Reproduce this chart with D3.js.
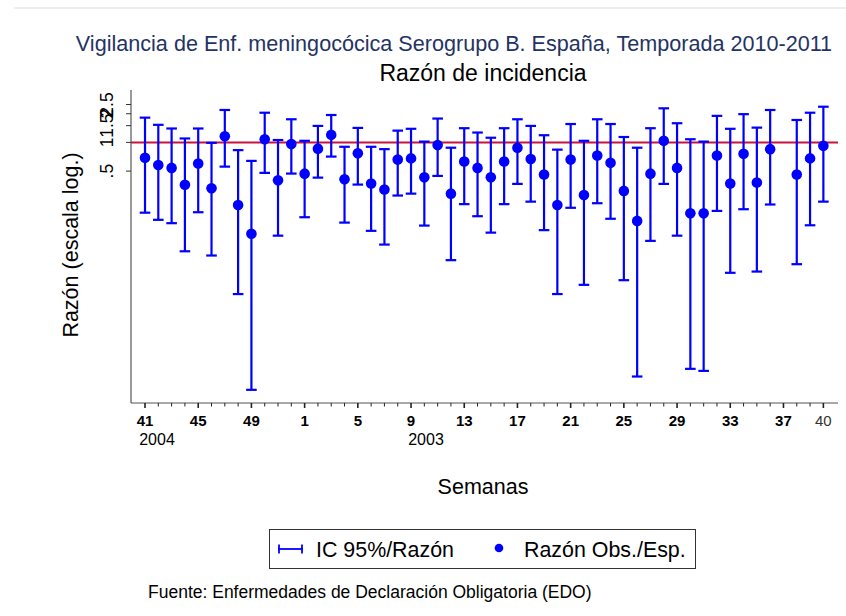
<!DOCTYPE html>
<html>
<head>
<meta charset="utf-8">
<script src="https://cdn.jsdelivr.net/npm/d3@7"></script>
<style>
  body { margin: 0; background: #fff; }
  text { font-family: 'Liberation Sans', Arial, sans-serif; }
</style>
</head>
<body>
<div id="chart"></div>
<script>
const weeks = [41, 42, 43, 44, 45, 46, 47, 48, 49, 50, 51, 52,
  1, 2, 3, 4, 5, 6, 7, 8, 9, 10, 11, 12, 13, 14, 15, 16, 17, 18, 19, 20,
  21, 22, 23, 24, 25, 26, 27, 28, 29, 30, 31, 32, 33, 34, 35, 36, 37, 38, 39, 40];

const ratio = [0.69, 0.58, 0.54, 0.36, 0.60, 0.33, 1.16, 0.22, 0.11, 1.08, 0.40, 0.96,
  0.47, 0.86, 1.20, 0.41, 0.77, 0.37, 0.32, 0.66, 0.68, 0.43, 0.94, 0.29, 0.63, 0.54,
  0.43, 0.63, 0.88, 0.67, 0.46, 0.22, 0.66, 0.28, 0.73, 0.61, 0.31, 0.15, 0.47, 1.04,
  0.54, 0.18, 0.18, 0.73, 0.37, 0.76, 0.38, 0.85, null, 0.46, 0.68, 0.92];

const upper = [1.82, 1.53, 1.40, 1.10, 1.40, 0.99, 2.19, 0.83, 0.64, 2.05, 1.06, 1.75,
  1.04, 1.49, 1.94, 0.90, 1.42, 0.90, 0.85, 1.33, 1.39, 1.02, 1.78, 0.88, 1.41, 1.27,
  1.12, 1.41, 1.75, 1.49, 1.19, 0.84, 1.56, 1.04, 1.75, 1.56, 1.14, 0.88, 1.41, 2.28,
  1.59, 1.08, 1.02, 1.90, 1.39, 1.98, 1.43, 2.19, null, 1.72, 2.05, 2.37];

const lower = [0.183, 0.154, 0.142, 0.072, 0.185, 0.065, 0.557, 0.0256, 0.00253, 0.479, 0.105, 0.471,
  0.164, 0.427, 0.710, 0.144, 0.361, 0.118, 0.0847, 0.277, 0.290, 0.134, 0.445, 0.0581, 0.225, 0.168,
  0.113, 0.225, 0.367, 0.239, 0.120, 0.0256, 0.206, 0.0320, 0.230, 0.158, 0.0358, 0.00349, 0.0926, 0.367,
  0.105, 0.00420, 0.00400, 0.191, 0.0428, 0.199, 0.0441, 0.223, null, 0.0527, 0.135, 0.239];

const yTicks = [0.5, 1, 1.5, 2, 2.5];
const xTickLabels = ['41', '45', '49', '1', '5', '9', '13', '17', '21', '25', '29', '33', '37', '40'];
const yearLabels = [{ week: 41, label: '2004' }, { week: 9, label: '2003' }];

const W = 846, H = 616;
const svg = d3.select('#chart').append('svg').attr('width', W).attr('height', H);

// plot region
const plot = { left: 131, right: 838, top: 90, bottom: 403 };

const data = weeks.map((w, i) => ({ week: w, i, r: ratio[i], lo: lower[i], hi: upper[i] }));

const x = d3.scaleLinear().domain([-1.053, 52.1]).range([plot.left, plot.right]);
const y = d3.scaleLog().domain([0.00184, 3.55]).range([plot.bottom, plot.top]);

// faint top rule
svg.append('line')
  .attr('x1', 14).attr('x2', W).attr('y1', 8).attr('y2', 8)
  .style('stroke', '#e6eaee').style('stroke-width', 1.5);

// titles
svg.append('text')
  .attr('x', 454).attr('y', 51)
  .attr('text-anchor', 'middle')
  .style('font-size', '21.6px')
  .style('fill', '#1f3464')
  .text('Vigilancia de Enf. meningocócica Serogrupo B. España, Temporada 2010-2011');

svg.append('text')
  .attr('x', 483).attr('y', 81)
  .attr('text-anchor', 'middle')
  .style('font-size', '23px')
  .style('fill', '#000')
  .text('Razón de incidencia');

// reference line at 1
svg.append('line')
  .attr('x1', plot.left).attr('x2', plot.right)
  .attr('y1', y(1)).attr('y2', y(1))
  .style('stroke', '#c8143c').style('stroke-width', 2);

// y axis
const yAxis = svg.append('g');
yAxis.append('line')
  .attr('x1', plot.left).attr('x2', plot.left).attr('y1', plot.top).attr('y2', plot.bottom)
  .style('stroke', '#555').style('stroke-width', 1.2);
yAxis.selectAll('.ytick')
  .data(yTicks)
  .enter()
  .append('line')
  .attr('x1', plot.left - 5).attr('x2', plot.left)
  .attr('y1', (d) => y(d)).attr('y2', (d) => y(d))
  .style('stroke', '#333').style('stroke-width', 1);
yAxis.selectAll('.ylab')
  .data(yTicks)
  .enter()
  .append('text')
  .attr('transform', (d) => `translate(113,${y(d)}) rotate(-90)`)
  .attr('text-anchor', 'middle')
  .style('font-size', '17.5px')
  .text((d) => String(d).replace(/^0/, ''));

svg.append('text')
  .attr('transform', 'translate(78,245) rotate(-90)')
  .attr('text-anchor', 'middle')
  .style('font-size', '21.5px')
  .text('Razón (escala log.)');

// x axis
const isMajor = (d) => xTickLabels.includes(String(d.week));
const xAxis = svg.append('g');
xAxis.append('line')
  .attr('x1', plot.left).attr('x2', plot.right).attr('y1', plot.bottom).attr('y2', plot.bottom)
  .style('stroke', '#555').style('stroke-width', 1.2);
xAxis.selectAll('.xtick')
  .data(data)
  .enter()
  .append('line')
  .attr('x1', (d) => x(d.i)).attr('x2', (d) => x(d.i))
  .attr('y1', plot.bottom)
  .attr('y2', (d) => plot.bottom + (isMajor(d) ? 5 : 3.5))
  .style('stroke', '#222')
  .style('stroke-width', (d) => (isMajor(d) ? 1.6 : 1));
xAxis.selectAll('.xlab')
  .data(data.filter(isMajor))
  .enter()
  .append('text')
  .attr('x', (d) => x(d.i))
  .attr('y', 426)
  .attr('text-anchor', 'middle')
  .style('font-size', '15px')
  .style('font-weight', (d) => (d.week === 40 ? 'normal' : 'bold'))
  .style('fill', (d) => (d.week === 40 ? '#333' : '#000'))
  .text((d) => d.week);

// year labels under the axis
xAxis.selectAll('.year')
  .data(yearLabels)
  .enter()
  .append('text')
  .attr('x', (d) => x(weeks.indexOf(d.week)) + (d.week === 41 ? 12 : 15))
  .attr('y', 445)
  .attr('text-anchor', 'middle')
  .style('font-size', '16px')
  .text((d) => d.label);

svg.append('text')
  .attr('x', 483).attr('y', 494)
  .attr('text-anchor', 'middle')
  .style('font-size', '21.5px')
  .text('Semanas');

// confidence intervals
const valid = data.filter((d) => d.r != null);
const cap = 5.3;
const bars = svg.append('g').style('stroke', '#0000ff').style('stroke-width', 2.2);
bars.selectAll('.ci')
  .data(valid)
  .enter()
  .append('line')
  .attr('x1', (d) => x(d.i)).attr('x2', (d) => x(d.i))
  .attr('y1', (d) => y(d.lo)).attr('y2', (d) => y(d.hi));
bars.selectAll('.capHi')
  .data(valid)
  .enter()
  .append('line')
  .attr('x1', (d) => x(d.i) - cap).attr('x2', (d) => x(d.i) + cap)
  .attr('y1', (d) => y(d.hi)).attr('y2', (d) => y(d.hi));
bars.selectAll('.capLo')
  .data(valid)
  .enter()
  .append('line')
  .attr('x1', (d) => x(d.i) - cap).attr('x2', (d) => x(d.i) + cap)
  .attr('y1', (d) => y(d.lo)).attr('y2', (d) => y(d.lo));

// observed / expected ratio
svg.selectAll('.dot')
  .data(valid)
  .enter()
  .append('circle')
  .attr('cx', (d) => x(d.i))
  .attr('cy', (d) => y(d.r))
  .attr('r', 5.3)
  .style('fill', '#0000ff');

// legend
const legend = svg.append('g');
legend.append('rect')
  .attr('x', 269.5).attr('y', 529.5).attr('width', 426).attr('height', 39)
  .style('fill', '#fff').style('stroke', '#333').style('stroke-width', 1);
legend.append('line')
  .attr('x1', 278).attr('x2', 303).attr('y1', 549).attr('y2', 549)
  .style('stroke', '#0000ff').style('stroke-width', 1.8);
legend.append('line')
  .attr('x1', 279).attr('x2', 279).attr('y1', 544.5).attr('y2', 553.5)
  .style('stroke', '#0000ff').style('stroke-width', 1.8);
legend.append('line')
  .attr('x1', 302).attr('x2', 302).attr('y1', 544.5).attr('y2', 553.5)
  .style('stroke', '#0000ff').style('stroke-width', 1.8);
legend.append('text')
  .attr('x', 316).attr('y', 557)
  .style('font-size', '21.4px')
  .text('IC 95%/Razón');
legend.append('circle')
  .attr('cx', 499).attr('cy', 548).attr('r', 4.3)
  .style('fill', '#0000ff');
legend.append('text')
  .attr('x', 524).attr('y', 557)
  .style('font-size', '21.4px')
  .text('Razón Obs./Esp.');

svg.append('text')
  .attr('x', 148).attr('y', 598)
  .style('font-size', '17.5px')
  .text('Fuente: Enfermedades de Declaración Obligatoria (EDO)');
</script>
</body>
</html>
